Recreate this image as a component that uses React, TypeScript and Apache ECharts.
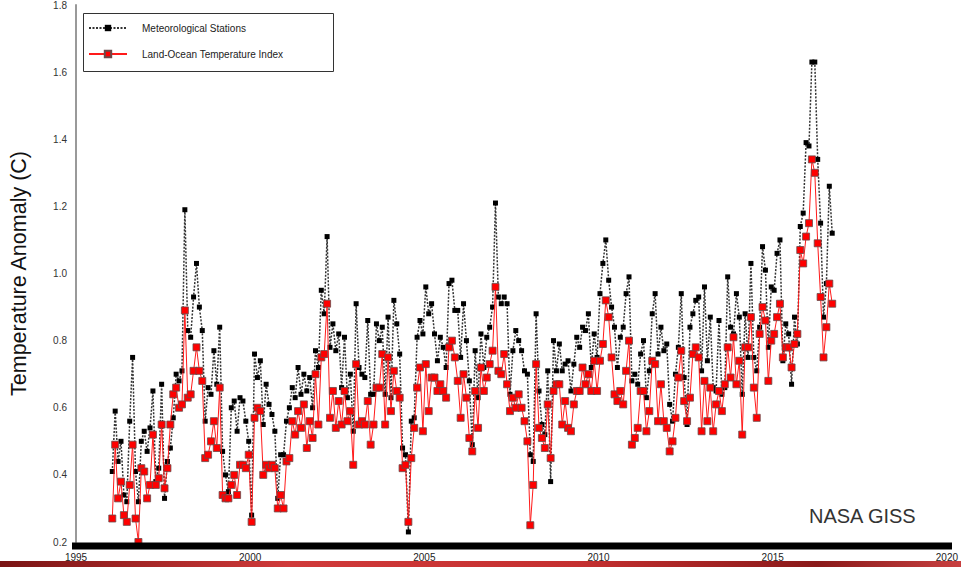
import React, { useEffect, useRef } from "react";
import * as echarts from "echarts";

// Monthly values, Jan 1996 .. Sep 2016
const startYear = 1996;

const metStations: number[] = [
  0.41, 0.59, 0.44, 0.50, 0.34, 0.32, 0.56, 0.75, 0.41, 0.32, 0.50, 0.53,
  0.47, 0.54, 0.65, 0.38, 0.42, 0.67, 0.33, 0.44, 0.48, 0.57, 0.70, 0.68,
  0.71, 1.19, 0.83, 0.81, 0.93, 1.03, 0.90, 0.83, 0.56, 0.66, 0.64, 0.77,
  0.67, 0.84, 0.47, 0.40, 0.35, 0.60, 0.62, 0.53, 0.63, 0.62, 0.56, 0.50,
  0.28, 0.76, 0.69, 0.74, 0.55, 0.67, 0.61, 0.58, 0.53, 0.33, 0.46, 0.46,
  0.56, 0.60, 0.66, 0.63, 0.72, 0.64, 0.70, 0.65, 0.69, 0.60, 0.77, 0.72,
  0.95, 0.88, 1.11, 0.78, 0.85, 0.77, 0.82, 0.66, 0.81, 0.63, 0.70, 0.53,
  0.91, 0.72, 0.70, 0.69, 0.86, 0.64, 0.64, 0.85, 0.80, 0.84, 0.64, 0.87,
  0.63, 0.92, 0.85, 0.76, 0.48, 0.46, 0.23, 0.56, 0.57, 0.81, 0.86, 0.82,
  0.96, 0.88, 0.91, 0.82, 0.74, 0.81, 0.78, 0.72, 0.97, 0.98, 0.89, 0.89,
  0.75, 0.91, 0.80, 0.68, 0.49, 0.77, 0.63, 0.82, 0.72, 0.81, 0.84, 0.90,
  1.21, 0.93, 0.91, 0.93, 0.91, 0.64, 0.77, 0.83, 0.80, 0.77, 0.71, 0.70,
  0.46, 0.44, 0.88, 0.65, 0.55, 0.52, 0.71, 0.38, 0.80, 0.71, 0.79, 0.71,
  0.73, 0.74, 0.65, 0.73, 0.81, 0.78, 0.84, 0.83, 0.88, 0.72, 0.82, 0.75,
  0.94, 1.03, 1.10, 0.98, 0.90, 0.84, 0.72, 0.81, 0.84, 0.94, 0.99, 0.68,
  0.70, 0.67, 0.76, 0.80, 0.63, 0.71, 0.88, 0.94, 0.76, 0.84, 0.77, 0.79,
  0.61, 0.56, 0.70, 0.78, 0.94, 0.69, 0.55, 0.84, 0.88, 0.92, 0.93, 0.71,
  0.96, 0.74, 0.87, 0.66, 0.65, 0.86, 0.64, 0.66, 0.99, 0.84, 0.82, 0.94,
  0.87, 0.64, 0.88, 0.75, 1.03, 0.75, 0.71, 0.84, 1.08, 1.01, 0.78, 0.96,
  0.95, 1.06, 1.10, 0.74, 0.85, 0.82, 0.67, 0.87, 0.79, 1.14, 1.18, 1.39,
  1.38, 1.63, 1.63, 1.34, 1.15, 0.87, 0.97, 1.26, 1.12,
];

const landOcean: number[] = [
  0.27, 0.49, 0.33, 0.38, 0.28, 0.26, 0.37, 0.49, 0.27, 0.20, 0.42, 0.41,
  0.33, 0.37, 0.52, 0.37, 0.39, 0.55, 0.36, 0.42, 0.55, 0.64, 0.66, 0.60,
  0.61, 0.89, 0.63, 0.64, 0.71, 0.78, 0.71, 0.68, 0.45, 0.46, 0.50, 0.56,
  0.48, 0.66, 0.34, 0.33, 0.33, 0.37, 0.40, 0.34, 0.43, 0.43, 0.42, 0.46,
  0.26, 0.57, 0.60, 0.59, 0.40, 0.43, 0.42, 0.43, 0.42, 0.30, 0.34, 0.30,
  0.44, 0.45, 0.56, 0.52, 0.59, 0.54, 0.61, 0.48, 0.56, 0.51, 0.70, 0.55,
  0.75, 0.76, 0.91, 0.57, 0.65, 0.54, 0.62, 0.55, 0.65, 0.56, 0.59, 0.43,
  0.73, 0.55, 0.56, 0.55, 0.62, 0.49, 0.55, 0.66, 0.66, 0.76, 0.55, 0.75,
  0.59, 0.71, 0.65, 0.63, 0.42, 0.43, 0.26, 0.45, 0.54, 0.66, 0.72, 0.53,
  0.73, 0.59, 0.69, 0.69, 0.65, 0.67, 0.65, 0.63, 0.78, 0.80, 0.75, 0.68,
  0.57, 0.70, 0.63, 0.51, 0.47, 0.65, 0.54, 0.72, 0.65, 0.69, 0.73, 0.77,
  0.96, 0.71, 0.70, 0.76, 0.67, 0.59, 0.63, 0.60, 0.64, 0.60, 0.56, 0.50,
  0.25, 0.37, 0.73, 0.54, 0.51, 0.48, 0.61, 0.45, 0.65, 0.67, 0.67, 0.55,
  0.62, 0.54, 0.53, 0.61, 0.65, 0.65, 0.72, 0.67, 0.70, 0.65, 0.74, 0.65,
  0.74, 0.79, 0.92, 0.87, 0.75, 0.64, 0.62, 0.65, 0.61, 0.71, 0.80, 0.49,
  0.51, 0.54, 0.65, 0.65, 0.53, 0.59, 0.74, 0.73, 0.56, 0.67, 0.56, 0.54,
  0.47, 0.50, 0.57, 0.69, 0.77, 0.62, 0.56, 0.63, 0.76, 0.78, 0.75, 0.53,
  0.68, 0.56, 0.66, 0.53, 0.61, 0.65, 0.59, 0.67, 0.78, 0.69, 0.81, 0.67,
  0.74, 0.52, 0.78, 0.78, 0.87, 0.66, 0.57, 0.82, 0.90, 0.86, 0.68, 0.80,
  0.82, 0.87, 0.91, 0.75, 0.78, 0.78, 0.72, 0.79, 0.82, 1.07, 1.03, 1.11,
  1.15, 1.34, 1.30, 1.09, 0.93, 0.75, 0.84, 0.97, 0.91,
];

const seriesNames = ["Meteorological Stations", "Land-Ocean Temperature Index"];
const yAxisTitle = "Temperature Anomaly (C)";
const sourceLabel = "NASA GISS";

const FONT = "'Liberation Sans', Arial, Helvetica, sans-serif";

const toPairs = (vals: number[]) =>
  vals.map((v, i) => [startYear + (i + 0.5) / 12, v]);

export default function App() {
  const ref = useRef<HTMLDivElement>(null);

  useEffect(() => {
    if (!ref.current) return;
    const chart = echarts.init(ref.current, null, { renderer: "svg" });
    chart.setOption({
      animation: false,
      backgroundColor: "#ffffff",
      grid: { left: 72, right: 9, top: 2, bottom: 25, containLabel: false },
      xAxis: {
        type: "value",
        min: 1995,
        max: 2020,
        interval: 5,
        offset: 4,
        axisLine: { show: false },
        axisTick: { show: false },
        splitLine: { show: false },
        axisLabel: {
          margin: 6,
          fontSize: 10,
          color: "#222",
          fontFamily: FONT,
          formatter: (v: number) => String(v),
        },
      },
      yAxis: {
        type: "value",
        min: 0.2,
        max: 1.8,
        interval: 0.2,
        name: yAxisTitle,
        nameLocation: "middle",
        nameGap: 46,
        nameTextStyle: { fontSize: 21.5, color: "#111", fontFamily: FONT },
        axisLine: { show: true, lineStyle: { color: "#999", width: 2 } },
        axisTick: { show: false },
        splitLine: { show: false },
        axisLabel: {
          margin: 9,
          fontSize: 10,
          color: "#333",
          fontFamily: FONT,
          formatter: (v: number) => v.toFixed(1),
        },
      },
      legend: {
        left: 88,
        top: 23,
        orient: "vertical",
        itemWidth: 38,
        itemHeight: 8,
        itemGap: 16,
        padding: 0,
        textStyle: { fontSize: 10, color: "#222", fontFamily: FONT, padding: [0, 0, 0, 10] },
        data: seriesNames,
      },
      graphic: [
        {
          type: "rect",
          left: 81,
          top: 11,
          shape: { width: 250, height: 58 },
          style: { fill: "none", stroke: "#333", lineWidth: 1 },
          z: 10,
        },
        {
          type: "rect",
          left: 72,
          top: 542.5,
          shape: { width: 880, height: 7 },
          style: { fill: "#000" },
          z: 10,
        },
        {
          type: "text",
          left: 809,
          top: 506,
          style: { text: sourceLabel, fontSize: 20, fill: "#333", fontFamily: FONT },
          z: 10,
        },
        {
          type: "rect",
          left: 0,
          top: 561,
          shape: { width: 961, height: 6 },
          style: {
            fill: new echarts.graphic.LinearGradient(0, 0, 1, 0, [
              { offset: 0, color: "#7a1414" },
              { offset: 0.3, color: "#d03a3a" },
              { offset: 0.6, color: "#c53030" },
              { offset: 0.85, color: "#8a1a1a" },
              { offset: 1, color: "#c84040" },
            ]),
          },
          z: 10,
        },
      ],
      series: [
        {
          name: seriesNames[0],
          type: "line",
          data: toPairs(metStations),
          symbol: "rect",
          symbolSize: 5,
          itemStyle: { color: "#000" },
          lineStyle: { color: "#333", width: 1.5, type: [2, 1.5] },
          z: 2,
        },
        {
          name: seriesNames[1],
          type: "line",
          data: toPairs(landOcean),
          symbol: "rect",
          symbolSize: 7,
          itemStyle: { color: "#ff0000", borderColor: "#6a4a4a", borderWidth: 0.8 },
          lineStyle: { color: "#ff1a1a", width: 1 },
          z: 3,
        },
      ],
    });
    return () => chart.dispose();
  }, []);

  return (
    <div
      ref={ref}
      style={{ position: "fixed", left: 0, top: 0, width: 961, height: 567 }}
    />
  );
}
